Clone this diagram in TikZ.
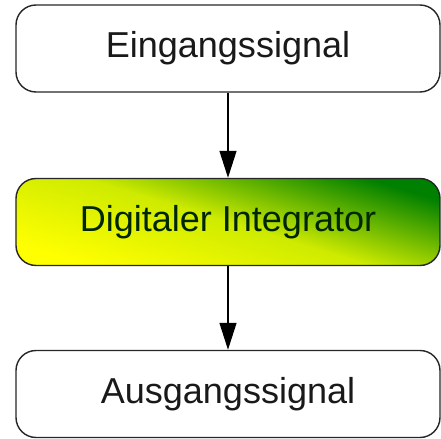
\documentclass[tikz,border=0pt]{standalone}
\usepackage{fontspec}
\setmainfont{Liberation Sans}
\usetikzlibrary{arrows.meta}
\tikzset{
  signalbox/.style={draw=black!85,line width=0.8pt,rounded corners=0.4cm,
    minimum width=8.48cm,minimum height=1.74cm,
    font=\fontsize{20.5}{24}\selectfont,text=black!90},
  flow/.style={line width=0.8pt,-{Triangle[length=0.54cm,width=0.34cm]}}
}
\begin{document}
\begin{tikzpicture}
\useasboundingbox (0,0) rectangle (8.82,-8.78);
\node[signalbox] (ein) at (4.56,-0.97) {Eingangssignal};
\node[signalbox,shade,bottom color=yellow,top color=green!50!black,
  middle color=yellow!88!green!92!black,shading angle=-17,text=black!85!green] (integ) at (4.56,-4.44) {Digitaler Integrator};
\node[signalbox] (aus) at (4.56,-7.88) {Ausgangssignal};
\draw[flow] (ein) -- (integ);
\draw[flow] (integ) -- (aus);
\end{tikzpicture}
\end{document}
